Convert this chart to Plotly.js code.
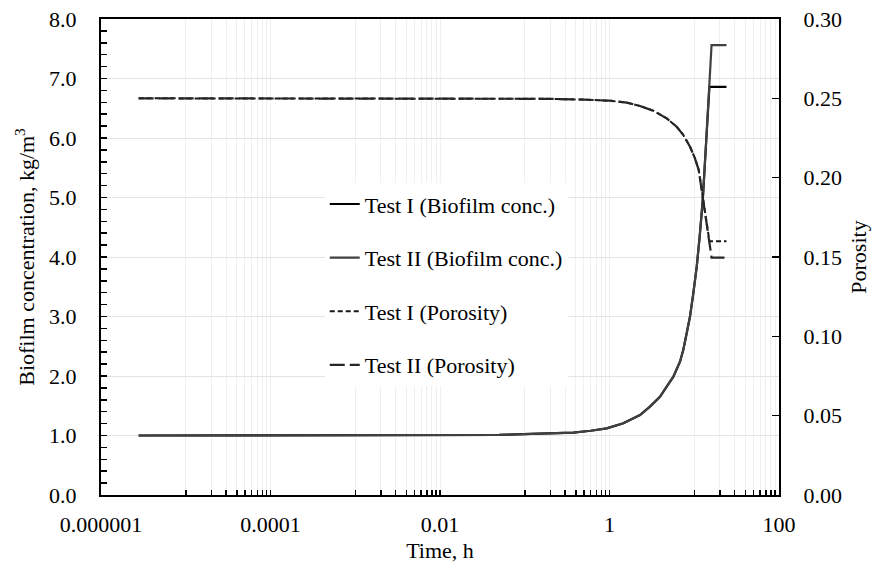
<!DOCTYPE html>
<html>
<head>
<meta charset="utf-8">
<script src="https://cdn.plot.ly/plotly-3.0.1.min.js"></script>
<style>html,body{margin:0;padding:0;background:#fff;}#chart{width:872px;height:567px;}</style>
</head>
<body>
<div id="chart"></div>
<script>
// ---- data ----
const bioTime2 = [2.78e-6, 1e-5, 1e-4, 1e-3, 0.01, 0.05, 0.15, 0.374, 0.6, 0.927, 1.456, 2.29, 3.0, 3.94, 4.73, 5.67, 6.79, 7.43, 8.14, 8.91, 9.75, 10.7, 11.6, 12.6, 13.8, 15.1, 16.0, 24];
const bioTest2 = [1.0, 1.0, 1.0, 1.0, 1.0, 1.01, 1.03, 1.05, 1.08, 1.12, 1.205, 1.345, 1.485, 1.65, 1.82, 1.99, 2.24, 2.44, 2.72, 3.0, 3.39, 3.84, 4.35, 4.96, 5.92, 6.86, 7.56, 7.56];
const bioTime1 = [2.78e-6, 1e-5, 1e-4, 1e-3, 0.01, 0.05, 0.15, 0.374, 0.6, 0.927, 1.456, 2.29, 3.0, 3.94, 4.73, 5.67, 6.79, 7.43, 8.14, 8.91, 9.75, 10.7, 11.6, 12.6, 13.8, 15.1, 24];
const bioTest1 = [1.0, 1.0, 1.0, 1.0, 1.0, 1.01, 1.03, 1.05, 1.08, 1.12, 1.205, 1.345, 1.485, 1.65, 1.82, 1.99, 2.24, 2.44, 2.72, 3.0, 3.39, 3.84, 4.35, 4.96, 5.92, 6.86, 6.86];

const porTime2 = [2.78e-6, 1e-4, 0.01, 0.05, 0.18, 0.5, 1, 1.6, 2.29, 3.29, 4.73, 6.2, 7.43, 8.91, 10.2, 11.3, 12.6, 14.0, 15.35, 16.0, 24];
const porTest2 = [0.25, 0.25, 0.25, 0.2499, 0.2497, 0.2492, 0.2485, 0.2473, 0.2452, 0.2422, 0.2374, 0.2321, 0.2269, 0.2195, 0.2122, 0.2048, 0.189, 0.171, 0.1565, 0.1496, 0.1496];
const porTime1 = [2.78e-6, 1e-4, 0.01, 0.05, 0.18, 0.5, 1, 1.6, 2.29, 3.29, 4.73, 6.2, 7.43, 8.91, 10.2, 11.3, 12.6, 14.0, 15.1, 24];
const porTest1 = [0.25, 0.25, 0.25, 0.2499, 0.2497, 0.2492, 0.2485, 0.2473, 0.2452, 0.2422, 0.2374, 0.2321, 0.2269, 0.2195, 0.2122, 0.2048, 0.189, 0.171, 0.160, 0.160];

const seriesNames = ["Test I (Biofilm conc.)", "Test II (Biofilm conc.)", "Test I (Porosity)", "Test II (Porosity)"];

// x-axis tick labels (major) and minor decades shown
const majorTicks = [1e-6, 1e-4, 1e-2, 1, 100];
const majorLabels = ["0.000001", "0.0001", "0.01", "1", "100"];
const minorDecades = [1e-5, 1e-3, 1e-1, 10];
const minorMult = [1, 2, 3, 4, 5, 6, 7, 8, 9];

// ---- build axis ticks ----
const tv = [], tt = [];
majorTicks.forEach((v, i) => { tv.push(v); tt.push(majorLabels[i]); });
minorDecades.forEach(d => minorMult.forEach(m => { const v = m * d; if (!tv.some(t => Math.abs(t - v) / v < 1e-9)) { tv.push(v); tt.push(""); } }));

const FONT = "Liberation Serif";

const traces = [
  {x: bioTime1, y: bioTest1, name: seriesNames[0], mode: "lines", line: {color: "#000000", width: 2.2}, legendgroup: "a"},
  {x: bioTime2, y: bioTest2, name: seriesNames[1], mode: "lines", line: {color: "#404040", width: 2.2}, legendgroup: "b"},
  {x: porTime1, y: porTest1, name: seriesNames[2], mode: "lines", yaxis: "y2", line: {color: "#1a1a1a", width: 2, dash: "5px,3px"}, legendgroup: "c"},
  {x: porTime2, y: porTest2, name: seriesNames[3], mode: "lines", yaxis: "y2", line: {color: "#262626", width: 2.2, dash: "15px,5px"}, legendgroup: "d"}
];

const layout = {
  width: 872, height: 567,
  margin: {l: 101, r: 93, t: 19, b: 72},
  paper_bgcolor: "#ffffff", plot_bgcolor: "#ffffff",
  font: {family: FONT, size: 22, color: "#000"},
  showlegend: true,
  legend: {x: 0.33, y: 0.655, xanchor: "left", yanchor: "top", bgcolor: "rgba(255,255,255,1)", borderwidth: 0,
           font: {family: FONT, size: 22, color: "#000"}, traceorder: "grouped", tracegroupgap: 22},
  xaxis: {
    type: "log", range: [-6, 2],
    tickmode: "array", tickvals: tv, ticktext: tt, tickangle: 0,
    ticks: "inside", ticklen: 5, tickwidth: 1.5, tickcolor: "#000",
    showline: true, linecolor: "#000", linewidth: 2, mirror: true,
    showgrid: true, gridcolor: "#f0f0f0", gridwidth: 1,
    zeroline: false, ticklabelstandoff: 9,
    tickfont: {family: FONT, size: 22},
    title: {text: "Time, h", font: {family: FONT, size: 22}, standoff: 6}
  },
  yaxis: {
    range: [0, 8], dtick: 1, tick0: 0, tickformat: ".1f",
    ticks: "inside", ticklen: 6, tickwidth: 1.5, tickcolor: "#000",
    minor: {dtick: 0.2, ticks: "inside", ticklen: 6, tickwidth: 1.5, tickcolor: "#000", showgrid: false},
    showline: true, linecolor: "#000", linewidth: 2,
    showgrid: true, gridcolor: "#e3e3e3", gridwidth: 1,
    zeroline: false, ticklabelstandoff: 18,
    tickfont: {family: FONT, size: 22},
    title: {text: "Biofilm concentration, kg/m<sup>3</sup>", font: {family: FONT, size: 22}, standoff: 8}
  },
  yaxis2: {
    overlaying: "y", side: "right",
    range: [0, 0.30], dtick: 0.05, tick0: 0, tickformat: ".2f",
    ticks: "inside", ticklen: 7, tickwidth: 1.5, tickcolor: "#000",
    showline: true, linecolor: "#000", linewidth: 2,
    showgrid: false, zeroline: false, ticklabelstandoff: 18,
    tickfont: {family: FONT, size: 22},
    title: {text: "Porosity", font: {family: FONT, size: 22}, standoff: 10}
  }
};

Plotly.newPlot("chart", traces, layout, {displayModeBar: false, staticPlot: true});
</script>
</body>
</html>
